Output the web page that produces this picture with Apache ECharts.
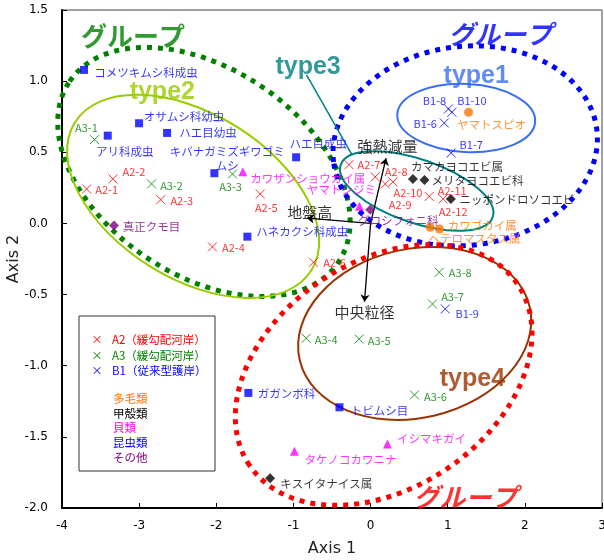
<!DOCTYPE html>
<html>
<head>
<meta charset="utf-8">
<script src="https://cdn.jsdelivr.net/npm/echarts@6/dist/echarts.min.js"></script>
<style>
  html, body { margin: 0; padding: 0; background: #fff; }
  #chart { width: 604px; height: 560px; }
</style>
</head>
<body>
<div id="chart"></div>
<script>
var FONT = '"Noto Sans CJK JP", sans-serif';

// sites (x marks)
var a2Names = ['A2-1','A2-2','A2-3','A2-4','A2-5','A2-6','A2-7','A2-8','A2-9','A2-10','A2-11','A2-12'];
var a2Points = [[-3.68,0.242],[-3.34,0.313],[-2.72,0.167],[-2.05,-0.165],[-1.43,0.207],[-0.74,-0.273],
                [-0.28,0.413],[0.06,0.327],[0.19,0.278],[0.29,0.292],[0.76,0.190],[0.94,0.172]];
var a3Names = ['A3-1','A3-2','A3-3','A3-4','A3-5','A3-6','A3-7','A3-8'];
var a3Points = [[-3.58,0.589],[-2.84,0.278],[-1.79,0.348],[-0.835,-0.807],[-0.148,-0.812],[0.569,-1.205],[0.803,-0.566],[0.890,-0.343]];
var b1Names = ['B1-6','B1-7','B1-8','B1-9','B1-10'];
var b1Points = [[0.955,0.706],[1.045,0.495],[1.010,0.805],[0.968,-0.601],[1.054,0.781]];

// species
var polychaeteNames = ['ヤマトスピオ','カワゴカイ属','ヘテロマスタス属'];
var polychaetePoints = [[1.270,0.781],[0.773,-0.027],[0.894,-0.039]];
var crustaceanNames = ['カマカヨコエビ属','メリタヨコエビ科','ニッポンドロソコエビ','キスイタナイス属'];
var crustaceanPoints = [[0.549,0.313],[0.699,0.306],[1.041,0.172],[-1.302,-1.791]];
var shellNames = ['カワザンショウガイ属','ヤマトシジミ','タケノコカワニナ','イシマキガイ'];
var shellPoints = [[-1.656,0.364],[-0.144,0.121],[-0.987,-1.601],[0.219,-1.550]];
var insectNames = ['コメツキムシ科成虫','オサムシ科幼虫','アリ科成虫','ハエ目幼虫','キバナガミズギワゴミ\nムシ','ハエ目成虫','ハネカクシ科成虫','ガガンボ科','トビムシ目'];
var insectPoints = [[-3.715,1.079],[-3.001,0.704],[-3.407,0.617],[-2.638,0.636],[-2.025,0.353],[-0.965,0.465],[-1.597,-0.093],[-1.584,-1.191],[-0.403,-1.292]];
var otherNames = ['真正クモ目','グロシフォニ科'];
var otherPoints = [[-3.326,-0.015],[-0.005,0.097]];

// environmental vectors
var envNames = ['強熱減量','地盤高','中央粒径'];
var envTips = [[0.20,0.458],[-0.826,0.037],[-0.079,-0.550]];

// label placement (pixel offsets of label centre from the point)
var a2LabelOffsets = [[20,1],[21,-7],[21,1],[21,1],[6,14],[21,1],[20,0],[21,-5],[15,21],[15,11],[23,-6],[10,13]];
var a3LabelOffsets = [[-8,-12],[20,2],[-2,13],[20,2],[20,2],[21,2],[20,-7],[21,1]];
var b1LabelOffsets = [[-19,1],[20,-8],[-14,-8],[22,5],[20,-11]];
var polychaeteLabelOffsets = [[23,12],[52,-2],[35,10]];
var crustaceanLabelOffsets = [[44,-12],[53,1],[66,1],[56,5]];
var shellLabelOffsets = [[65,7],[-18,-17],[56,8],[44,-5]];
var insectLabelOffsets = [[62,3],[45,-7],[17,16],[41,0],[13,-15],[22,-14],[55,-5],[38,1],[40,3]];
var otherLabelOffsets = [[37.5,1],[28,11]];
var envLabelOffsets = [[1.5,-12],[3,-6],[0,11]];

// group ellipses: centre in data units, radii in x-axis units, tilt in degrees (clockwise)
var ellipses = [
  { cx: -2.16, cy: 0.362, a: 2.10, b: 1.336, tilt: 34, color: '#008000', width: 5, dash: [5, 6] },
  { cx: -2.30, cy: 0.190, a: 1.808, b: 1.065, tilt: 32, color: '#99CC00', width: 2 },
  { cx: 1.227, cy: 0.545, a: 1.719, b: 1.289, tilt: -7, color: '#0000FF', width: 5, dash: [5, 6] },
  { cx: 1.240, cy: 0.741, a: 0.895, b: 0.441, tilt: 3, color: '#3A6EF2', width: 2 },
  { cx: 0.598, cy: 0.228, a: 1.042, b: 0.411, tilt: 19, color: '#008080', width: 2 },
  { cx: 0.572, cy: -0.773, a: 1.530, b: 1.095, tilt: -13, color: '#993300', width: 2 },
  { cx: 0.170, cy: -1.065, a: 2.097, b: 1.467, tilt: -34, color: '#FF0000', width: 5, dash: [5, 6] }
];

var TYPE_FONT = 'Liberation Sans, Arial, sans-serif';
var notes = [
  { text: 'グループ', pos: [-3.08, 1.318], style: { color: '#008000', fontSize: 26, fontWeight: 'bold', fontFamily: FONT } },
  { text: 'グループ', pos: [1.68, 1.332], style: { color: '#0000FF', fontSize: 26, fontWeight: 'bold', fontStyle: 'italic', fontFamily: FONT } },
  { text: 'グループ', pos: [1.23, -1.922], style: { color: '#FF0000', fontSize: 26, fontWeight: 'bold', fontStyle: 'italic', fontFamily: FONT } },
  { text: 'type3', pos: [-0.81, 1.100], style: { color: '#008080', fontSize: 25, fontWeight: 'bold', fontFamily: TYPE_FONT } },
  { text: 'type2', pos: [-2.70, 0.924], style: { color: '#99CC00', fontSize: 25, fontWeight: 'bold', fontFamily: TYPE_FONT } },
  { text: 'type1', pos: [1.37, 1.037], style: { color: '#3A6EF2', fontSize: 25, fontWeight: 'bold', fontFamily: TYPE_FONT } },
  { text: 'type4', pos: [1.32, -1.093], style: { color: '#993300', fontSize: 25, fontWeight: 'bold', fontFamily: TYPE_FONT } }
];

var type3Leader = [[-0.83, 1.044], [-0.24, 0.482]];

var crossPath = 'path://M0,0L10,10M10,0L0,10';

function pointData(names, points, offsets) {
  return names.map(function (n, i) {
    return { name: n, value: points[i], label: { offset: offsets[i] } };
  });
}

function siteSeries(name, names, points, offsets, color) {
  return {
    name: name,
    type: 'scatter',
    symbol: crossPath,
    symbolSize: 9,
    z: 5,
    itemStyle: { color: 'none', borderColor: color, borderWidth: 1 },
    label: { show: true, position: 'inside', formatter: '{b}', color: color, fontSize: 11, fontFamily: FONT },
    data: pointData(names, points, offsets)
  };
}

function speciesSeries(name, names, points, offsets, color, symbol, size) {
  return {
    name: name,
    type: 'scatter',
    symbol: symbol,
    symbolSize: size,
    z: 5,
    itemStyle: { color: color },
    label: { show: true, position: 'inside', formatter: '{b}', color: color, fontSize: 11.5, lineHeight: 14, align: 'center', fontFamily: FONT },
    data: pointData(names, points, offsets)
  };
}

var chart = echarts.init(document.getElementById('chart'));

var option = {
  animation: false,
  grid: { left: 62, right: 2, top: 10, bottom: 52, outerBoundsMode: 'none', containLabel: false,
          show: true, borderColor: '#444', borderWidth: 1 },
  xAxis: {
    type: 'value', min: -4, max: 3, interval: 1,
    name: 'Axis 1', nameLocation: 'middle', nameGap: 33, nameMoveOverlap: false,
    nameTextStyle: { color: '#222', fontSize: 16, fontFamily: 'Liberation Sans Narrow, DejaVu Sans, sans-serif' },
    axisLine: { onZero: false, lineStyle: { color: '#000', width: 2 } },
    axisTick: { inside: true, length: 5, lineStyle: { color: '#000' } },
    axisLabel: { color: '#000', fontSize: 12, margin: 12, fontFamily: 'DejaVu Sans, sans-serif' },
    splitLine: { show: false }
  },
  yAxis: {
    type: 'value', min: -2, max: 1.5, interval: 0.5,
    name: 'Axis 2', nameLocation: 'middle', nameGap: 40, nameRotate: 90, nameMoveOverlap: false,
    nameTextStyle: { color: '#222', fontSize: 16, fontFamily: 'Liberation Sans Narrow, DejaVu Sans, sans-serif' },
    axisLine: { onZero: false, lineStyle: { color: '#000', width: 2 } },
    axisTick: { inside: true, length: 5, lineStyle: { color: '#000' } },
    axisLabel: { color: '#000', fontSize: 12, margin: 14, fontFamily: 'DejaVu Sans, sans-serif',
      formatter: function (v) { return v.toFixed(1); } },
    splitLine: { show: false }
  },
  graphic: [
    { type: 'rect', shape: { x: 79, y: 316, width: 136, height: 155 }, style: { fill: '#fff', stroke: '#333', lineWidth: 1 }, z: 10 },
    { type: 'text', x: 97, y: 340, z: 11, style: { text: '×', fill: '#FF0000', fontSize: 11, align: 'center', verticalAlign: 'middle', fontFamily: FONT } },
    { type: 'text', x: 112, y: 340, z: 11, style: { text: 'A2（緩勾配河岸）', fill: '#FF0000', fontSize: 11.5, verticalAlign: 'middle', fontFamily: FONT } },
    { type: 'text', x: 97, y: 356, z: 11, style: { text: '×', fill: '#008000', fontSize: 11, align: 'center', verticalAlign: 'middle', fontFamily: FONT } },
    { type: 'text', x: 112, y: 356, z: 11, style: { text: 'A3（緩勾配河岸）', fill: '#008000', fontSize: 11.5, verticalAlign: 'middle', fontFamily: FONT } },
    { type: 'text', x: 97, y: 371, z: 11, style: { text: '×', fill: '#0000FF', fontSize: 11, align: 'center', verticalAlign: 'middle', fontFamily: FONT } },
    { type: 'text', x: 112, y: 371, z: 11, style: { text: 'B1（従来型護岸）', fill: '#0000FF', fontSize: 11.5, verticalAlign: 'middle', fontFamily: FONT } },
    { type: 'text', x: 113, y: 399, z: 11, style: { text: '多毛類', fill: '#FF7700', fontSize: 11.5, verticalAlign: 'middle', fontFamily: FONT } },
    { type: 'text', x: 113, y: 414, z: 11, style: { text: '甲殻類', fill: '#000', fontSize: 11.5, verticalAlign: 'middle', fontFamily: FONT } },
    { type: 'text', x: 113, y: 428, z: 11, style: { text: '貝類', fill: '#FF00FF', fontSize: 11.5, verticalAlign: 'middle', fontFamily: FONT } },
    { type: 'text', x: 113, y: 443, z: 11, style: { text: '昆虫類', fill: '#0000FF', fontSize: 11.5, verticalAlign: 'middle', fontFamily: FONT } },
    { type: 'text', x: 113, y: 458, z: 11, style: { text: 'その他', fill: '#800080', fontSize: 11.5, verticalAlign: 'middle', fontFamily: FONT } }
  ],
  series: [
    {
      type: 'custom',
      z: 1,
      silent: true,
      clip: false,
      data: ellipses.map(function (e) { return [e.cx, e.cy]; }),
      renderItem: function (params, api) {
        var e = ellipses[params.dataIndex];
        var c = api.coord([api.value(0), api.value(1)]);
        var unit = api.size([1, 0])[0];
        return {
          type: 'ellipse',
          x: c[0], y: c[1],
          rotation: -e.tilt * Math.PI / 180,
          shape: { cx: 0, cy: 0, rx: e.a * unit, ry: e.b * unit },
          style: { fill: 'none', stroke: e.color, lineWidth: e.width, lineDash: e.dash || null }
        };
      }
    },
    {
      type: 'lines',
      coordinateSystem: 'cartesian2d',
      z: 2,
      silent: true,
      symbol: ['none', 'none'],
      lineStyle: { color: '#008080', width: 1.5, opacity: 1 },
      data: [{ coords: type3Leader }]
    },
    {
      type: 'lines',
      coordinateSystem: 'cartesian2d',
      z: 3,
      silent: true,
      symbol: ['none', 'arrow'],
      symbolSize: 7,
      lineStyle: { color: '#000', width: 1.3, opacity: 1 },
      data: envTips.map(function (t) { return { coords: [[0, 0], t] }; })
    },
    {
      type: 'scatter',
      symbolSize: 0,
      z: 4,
      silent: true,
      label: { show: true, position: 'inside', formatter: '{b}', color: '#000', fontSize: 15, fontFamily: FONT },
      data: pointData(envNames, envTips, envLabelOffsets)
    },
    {
      type: 'scatter',
      symbolSize: 0,
      z: 4,
      silent: true,
      data: notes.map(function (n) {
        return { name: n.text, value: n.pos, label: Object.assign({ show: true, position: 'inside', formatter: '{b}' }, n.style) };
      })
    },
    speciesSeries('多毛類', polychaeteNames, polychaetePoints, polychaeteLabelOffsets, '#FF7700', 'circle', 9),
    speciesSeries('甲殻類', crustaceanNames, crustaceanPoints, crustaceanLabelOffsets, '#000000', 'diamond', 10),
    speciesSeries('貝類', shellNames, shellPoints, shellLabelOffsets, '#FF00FF', 'triangle', 9),
    speciesSeries('昆虫類', insectNames, insectPoints, insectLabelOffsets, '#0000FF', 'rect', 8),
    speciesSeries('その他', otherNames, otherPoints, otherLabelOffsets, '#800080', 'diamond', 10),
    siteSeries('A2', a2Names, a2Points, a2LabelOffsets, '#FF0000'),
    siteSeries('A3', a3Names, a3Points, a3LabelOffsets, '#008000'),
    siteSeries('B1', b1Names, b1Points, b1LabelOffsets, '#0000FF')
  ]
};

chart.setOption(option);
</script>
</body>
</html>
